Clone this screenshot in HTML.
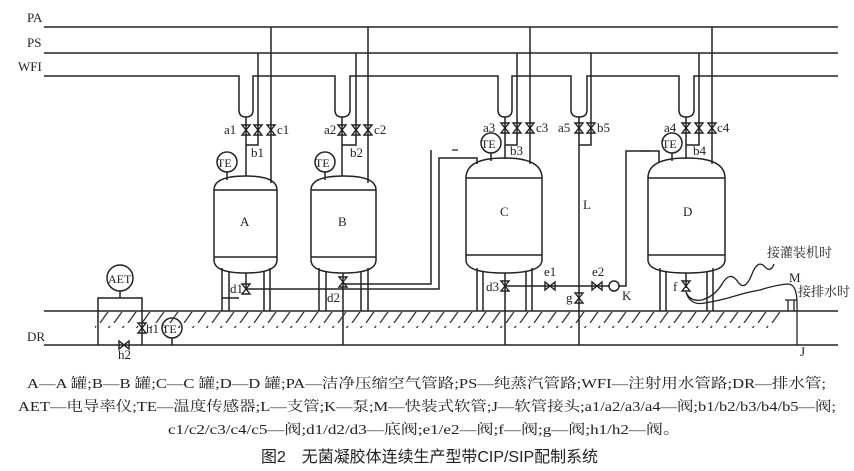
<!DOCTYPE html>
<html><head><meta charset="utf-8"><style>
html,body{margin:0;padding:0;background:#fff;}
svg{display:block;}
text{font-family:"Liberation Serif","Noto Serif CJK SC",serif;fill:#222;}
.cn{font-family:"Liberation Serif","Noto Serif CJK SC",serif;}
</style></head><body>
<svg width="854" height="471" viewBox="0 0 854 471" xmlns="http://www.w3.org/2000/svg">
<defs>
<g id="vv"><polygon points="-4,-5 4,-5 -4,5 4,5" fill="none" stroke="#222" stroke-width="1.4"/></g>
<g id="vh"><polygon points="-5,-4 -5,4 5,-4 5,4" fill="none" stroke="#222" stroke-width="1.4"/></g>
<pattern id="hatch" width="14" height="17" patternUnits="userSpaceOnUse"><line x1="2" y1="17" x2="12" y2="3" stroke="#333" stroke-width="1.3"/></pattern>
</defs>
<rect width="854" height="471" fill="#fff"/>
<g stroke="#222" stroke-width="1.5" fill="none">
<line x1="44" y1="27" x2="838" y2="27"/>
<line x1="44" y1="53" x2="838" y2="53"/>
<path d="M44,76 H239 V110 Q239,117 246,117 Q253,117 253,110 V76 H335 V110 Q335,117 342,117 Q350,117 350,110 V76 H498 V110 Q498,117 505,117 Q512,117 512,110 V76 H571 V110 Q571,117 579,117 Q587,117 587,110 V76 H679 V110 Q679,117 686,117 Q694,117 694,110 V76 H838"/>
<path d="M246,117 V176 M258,53 V145 H246 M271,27 V183"/>
<path d="M342,117 V176 M356,53 V145 H342 M368,27 V183"/>
<path d="M505,117 V159 M517,53 V145 H505 M530,27 V164"/>
<path d="M579,117 V345 M591,53 V145 H579"/>
<path d="M686,117 V159 M699,53 V145 H686 M712,27 V164"/>
<path d="M214,260 V190 Q214,176 245.5,176 Q277,176 277,190 V260 Q277,273 245.5,273 Q214,273 214,260 Z M214,190 H277 M214,257 H277"/>
<path d="M311,260 V190 Q311,176 343.5,176 Q376,176 376,190 V260 Q376,273 343.5,273 Q311,273 311,260 Z M311,190 H376 M311,257 H376"/>
<path d="M466,260 V178 Q466,158 504,158 Q542,158 542,178 V260 Q542,273 504,273 Q466,273 466,260 Z M466,178 H542 M466,255 H542"/>
<path d="M648,260 V178 Q648,158 686.5,158 Q725,158 725,178 V260 Q725,273 686.5,273 Q648,273 648,260 Z M648,178 H725 M648,255 H725"/>
<path d="M222,268 V311 M229,271 V311 M264,271 V311 M270,268 V311 M222,298 H239"/>
<path d="M319,268 V311 M326,271 V311 M361,271 V311 M368,268 V311"/>
<path d="M477,268 V311 M483,271 V311 M526,271 V311 M532,268 V311"/>
<path d="M660,268 V311 M666,271 V311 M707,271 V311 M713,268 V311"/>
<circle cx="227" cy="162" r="10"/><line x1="227" y1="172" x2="227" y2="180"/>
<circle cx="325" cy="162" r="10"/><line x1="325" y1="172" x2="325" y2="180"/>
<circle cx="491" cy="143" r="10"/><line x1="491" y1="153" x2="491" y2="161"/>
<circle cx="672" cy="143" r="10"/><line x1="672" y1="153" x2="672" y2="161"/>
<path d="M246,273 V289 H439 V158 H477 V164"/>
<path d="M343,273 V345 M343,284 H431 V150"/>
<path d="M452,150 H458 M640,151 H650" stroke-width="1.2"/>
<path d="M505,273 V345 M505,286 H609 M619,286 H626 V151 H659 V163"/>
<circle cx="614" cy="286" r="5"/>
<path d="M686,273 V288"/>
<path d="M686,292 Q690,302 702,300 Q715,296 722,284 Q730,270 738,282 Q745,292 752,274 Q758,258 766,268 Q771,272 774,264" stroke-width="1.3"/>
<path d="M686,292 Q690,306 705,303 Q722,300 735,296 Q748,292 760,290 Q775,285 788,284 Q796,284 797,300 V345" stroke-width="1.3"/>
<path d="M785,300 H797 M788,300 V311 M794,300 V311" stroke-width="1.3"/>
<line x1="44" y1="311" x2="838" y2="311"/>
<line x1="44" y1="345" x2="838" y2="345"/>
<circle cx="120" cy="278" r="13"/>
<path d="M120,291 V298 M98,345 V298 H142 V345"/>
<circle cx="172" cy="328" r="10"/><line x1="172" y1="338" x2="172" y2="345"/>
</g>
<rect x="95" y="312" width="685" height="16" fill="url(#hatch)"/>
<g fill="#fff">
<use href="#vv" x="246" y="130"/><use href="#vv" x="258" y="130"/><use href="#vv" x="271" y="130"/>
<use href="#vv" x="342" y="130"/><use href="#vv" x="356" y="130"/><use href="#vv" x="368" y="130"/>
<use href="#vv" x="505" y="128"/><use href="#vv" x="517" y="128"/><use href="#vv" x="530" y="128"/>
<use href="#vv" x="579" y="128"/><use href="#vv" x="591" y="128"/>
<use href="#vv" x="686" y="128"/><use href="#vv" x="699" y="128"/><use href="#vv" x="712" y="128"/>
<use href="#vv" x="246" y="289"/><use href="#vv" x="343" y="282"/><use href="#vv" x="505" y="286"/>
<use href="#vv" x="579" y="298"/><use href="#vv" x="686" y="286"/><use href="#vv" x="142" y="328"/>
<use href="#vh" x="550" y="286"/><use href="#vh" x="597" y="286"/><use href="#vh" x="124" y="345"/>
</g>
<g font-size="13">
<text x="27" y="22">PA</text><text x="27" y="47">PS</text><text x="18" y="71">WFI</text><text x="27" y="341">DR</text>
<text x="224" y="134">a1</text><text x="277" y="134">c1</text><text x="251" y="157">b1</text>
<text x="324" y="134">a2</text><text x="374" y="134">c2</text><text x="350" y="157">b2</text>
<text x="483" y="132">a3</text><text x="536" y="132">c3</text><text x="510" y="155">b3</text>
<text x="558" y="132">a5</text><text x="597" y="132">b5</text>
<text x="664" y="132">a4</text><text x="717" y="132">c4</text><text x="693" y="155">b4</text>
<text x="217" y="167" font-size="12">TE</text><text x="315" y="167" font-size="12">TE</text>
<text x="481" y="148" font-size="12">TE</text><text x="662" y="148" font-size="12">TE</text>
<text x="162" y="333" font-size="12">TE</text><text x="108" y="283" font-size="12">AET</text>
<text x="240" y="226">A</text><text x="338" y="226">B</text><text x="500" y="216">C</text><text x="683" y="216">D</text>
<text x="583" y="209">L</text>
<text x="230" y="293">d1</text><text x="327" y="302">d2</text><text x="486" y="291">d3</text>
<text x="544" y="276">e1</text><text x="592" y="276">e2</text><text x="566" y="302">g</text><text x="622" y="300">K</text>
<text x="673" y="291">f</text><text x="146" y="333">h1</text><text x="118" y="359">h2</text>
<text x="789" y="282">M</text><text x="800" y="356">J</text>
<text x="767" y="257" class="cn">接灌装机时</text><text x="798" y="296" class="cn">接排水时</text>
</g>
<g font-size="14" class="cn">
<text x="27" y="388" textLength="799" lengthAdjust="spacingAndGlyphs">A—A 罐;B—B 罐;C—C 罐;D—D 罐;PA—洁净压缩空气管路;PS—纯蒸汽管路;WFI—注射用水管路;DR—排水管;</text>
<text x="18" y="411" textLength="818" lengthAdjust="spacingAndGlyphs">AET—电导率仪;TE—温度传感器;L—支管;K—泵;M—快装式软管;J—软管接头;a1/a2/a3/a4—阀;b1/b2/b3/b4/b5—阀;</text>
<text x="168" y="434" textLength="512" lengthAdjust="spacingAndGlyphs">c1/c2/c3/c4/c5—阀;d1/d2/d3—底阀;e1/e2—阀;f—阀;g—阀;h1/h2—阀。</text>
<text x="261" y="462" textLength="337" lengthAdjust="spacingAndGlyphs" style="font-family:'Liberation Sans','Noto Sans CJK SC',sans-serif" font-size="16">图2　无菌凝胶体连续生产型带CIP/SIP配制系统</text>
</g>
</svg>
</body></html>
